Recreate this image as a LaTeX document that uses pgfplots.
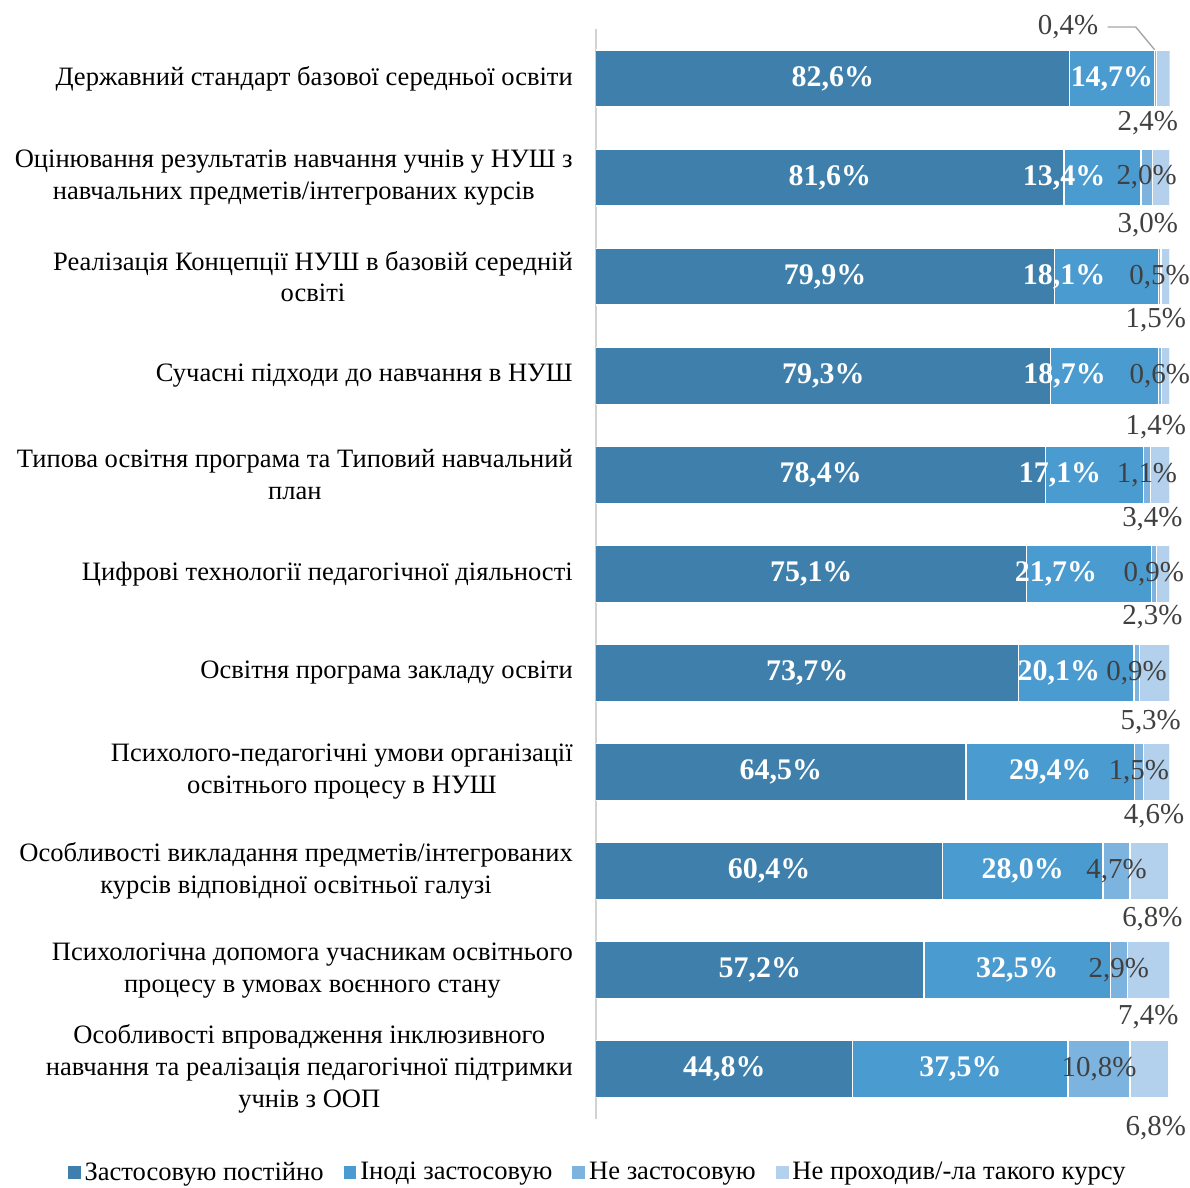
\documentclass[border=0pt]{standalone}
\usepackage{fontspec}
\setmainfont{Liberation Serif}
\usepackage{pgfplots}
\usepackage{pgfplotstable}
\pgfplotsset{compat=1.18}

\definecolor{cA}{HTML}{3E80AB}
\definecolor{cB}{HTML}{4A9BD0}
\definecolor{cC}{HTML}{7DB3DF}
\definecolor{cD}{HTML}{B3D1EC}
\definecolor{lbl}{HTML}{404040}

% pos: 10 = top row; bx = where the second label sits; lx, dl = where the last-series label sits
\pgfplotstableread{
pos a    b    c    d   bx    lx   dl
10  82.6 14.7 0.4  2.4 89.95 96.2 0.45
9   81.6 13.4 2.0  3.0 81.6  96.2 0.48
8   79.9 18.1 0.5  1.5 81.6  97.6 0.44
7   79.3 18.7 0.6  1.4 81.7  97.6 0.52
6   78.4 17.1 1.1  3.4 80.9  97.0 0.45
5   75.1 21.7 0.9  2.3 80.2  97.0 0.44
4   73.7 20.1 0.9  5.3 80.7  96.7 0.50
3   64.5 29.4 1.5  4.6 79.2  97.3 0.45
2   60.4 28.0 4.7  6.8 74.4  97.0 0.48
1   57.2 32.5 2.9  7.4 73.45 96.3 0.47
0   44.8 37.5 10.8 6.8 63.55 97.6 0.59
}\datatable

\pgfplotsset{
  common/.style={
    scale only axis, width=287.5pt, height=546pt,
    xmin=0, xmax=100, ymin=-0.5, ymax=10.5,
  },
  legsq/.style={legend image code/.code={\fill[##1,draw=none] (0pt,-3.2pt) rectangle (6.4pt,3.2pt);}},
  pct/.style={nodes near coords={\pgfmathprintnumber[fixed, fixed zerofill, precision=1, use comma, assume math mode=true]{\pgfplotspointmeta}\%}},
}

\begin{document}
\begin{tikzpicture}
\begin{axis}[
  common,
  xbar stacked, bar width=28.5pt,
  axis x line=none, axis y line*=left,
  y axis line style={draw=gray!35, line width=0.8pt},
  xtick=\empty, ytick={0,...,10},
  yticklabels={
    {Особливості впровадження інклюзивного\\навчання та реалізація педагогічної підтримки\\учнів з ООП},
    {Психологічна допомога учасникам освітнього\\процесу в умовах воєнного стану},
    {Особливості викладання предметів/інтегрованих\\курсів відповідної освітньої галузі},
    {Психолого-педагогічні умови організації\\освітнього процесу в НУШ},
    {Освітня програма закладу освіти},
    {Цифрові технології педагогічної діяльності},
    {Типова освітня програма та Типовий навчальний\\план},
    {Сучасні підходи до навчання в НУШ},
    {Реалізація Концепції НУШ в базовій середній\\освіті},
    {Оцінювання результатів навчання учнів у НУШ з\\навчальних предметів/інтегрованих курсів},
    {Державний стандарт базової середньої освіти}},
  major tick length=0pt,
  yticklabel style={align=center, font=\fontsize{13.3}{16}\selectfont, xshift=-8pt},
  legend columns=4,
  legend style={draw=none, at={(axis description cs:0.005,-0.0495)}, anchor=center,
    font=\fontsize{13.3}{15}\selectfont, inner sep=0pt,
    /tikz/every even column/.append style={column sep=8pt}},
  legend cell align=left,
]
\addplot[fill=cA, draw=white, line width=0.6pt, legsq] table[x=a, y=pos]{\datatable};
\addplot[fill=cB, draw=white, line width=0.6pt, legsq] table[x=b, y=pos]{\datatable};
\addplot[fill=cC, draw=white, line width=0.6pt, legsq] table[x=c, y=pos]{\datatable};
\addplot[fill=cD, draw=white, line width=0.6pt, legsq] table[x=d, y=pos]{\datatable};
\legend{Застосовую постійно, Іноді застосовую, Не застосовую, Не проходив/-ла такого курсу}
\end{axis}

\begin{axis}[
  common, axis lines=none, clip=false, xtick=\empty, ytick=\empty,
  nodes near coords style={anchor=center, inner sep=0pt},
]
\path (axis description cs:-1.0383,-0.0604) rectangle (axis description cs:1.0313,1.0266);
\addplot[only marks, mark=none, pct, point meta=explicit,
  nodes near coords style={white, font=\bfseries\fontsize{15}{15}\selectfont}]
  table[x expr=\thisrow{a}/2, y=pos, meta=a]{\datatable};
\addplot[only marks, mark=none, pct, point meta=explicit,
  nodes near coords style={white, font=\bfseries\fontsize{15}{15}\selectfont}]
  table[x=bx, y=pos, meta=b]{\datatable};
\addplot[only marks, mark=none, pct, point meta=explicit, skip coords between index={0}{1},
  nodes near coords style={lbl, font=\fontsize{14.5}{14.5}\selectfont}]
  table[x expr=\thisrow{a}+\thisrow{b}+\thisrow{c}/2, y=pos, meta=c]{\datatable};
\addplot[only marks, mark=none, pct, point meta=explicit,
  nodes near coords style={lbl, font=\fontsize{14.5}{14.5}\selectfont}]
  table[x=lx, y expr=\thisrow{pos}-\thisrow{dl}, meta=d]{\datatable};
\addplot[only marks, mark=none, pct, point meta=explicit,
  nodes near coords style={lbl, font=\fontsize{14.5}{14.5}\selectfont}]
  coordinates {(82.3,10.52) [0.4]};
\draw[gray!70, line width=0.7pt] (axis cs:89.2,10.52) -- (axis cs:94.1,10.52) -- (axis cs:97.4,10.29);
\end{axis}
\end{tikzpicture}
\end{document}
